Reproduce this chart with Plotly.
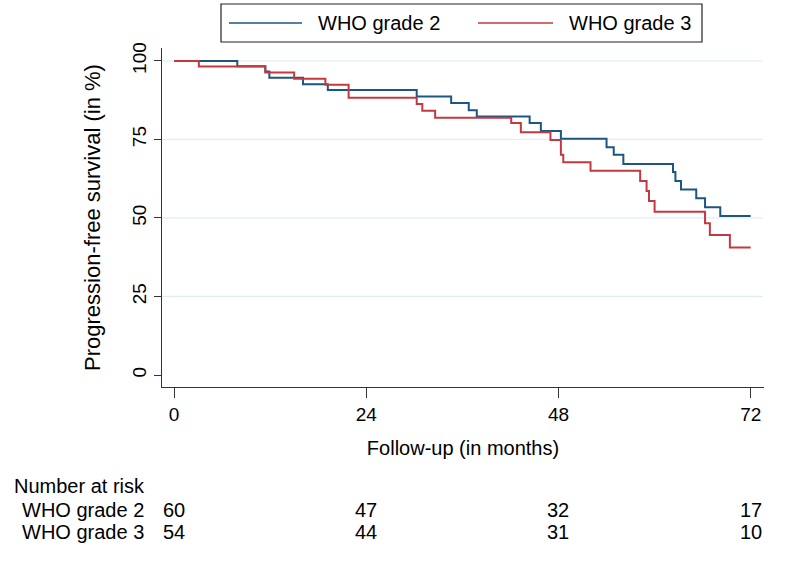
import plotly.graph_objects as go

# ---------------- data ----------------
g2_months = [0, 7.9, 11.4, 11.9, 16.1, 19.2, 30.3, 34.6, 36.8, 37.8, 44.4, 45.8, 48.3,
             54.0, 54.9, 56.1, 62.3, 62.6, 63.3, 65.2, 66.3, 68.2, 72.0]
g2_surv = [100, 98.3, 96.6, 94.6, 92.6, 90.7, 88.7, 86.6, 84.3, 82.3, 80.2, 77.7, 75.2,
           72.5, 70.1, 67.2, 64.6, 61.8, 59.1, 56.3, 53.4, 50.6, 50.6]

g3_months = [0, 3.1, 11.4, 15.0, 18.9, 21.8, 30.3, 31.0, 32.6, 42.1, 43.3, 47.0, 48.3,
             48.6, 52.0, 58.2, 59.0, 59.3, 60.0, 66.3, 66.9, 69.4, 72.0]
g3_surv = [100, 98.2, 96.3, 94.3, 92.4, 88.3, 86.3, 84.1, 81.9, 80.2, 77.3, 74.8, 70.1,
           67.7, 65.0, 61.8, 58.6, 55.4, 52.0, 48.3, 44.6, 40.6, 40.6]

series_names = ["WHO grade 2", "WHO grade 3"]
series_colors = ["#1c5683", "#c3393f"]

x_ticks = [0, 24, 48, 72]
y_ticks = [0, 25, 50, 75, 100]
y_grid = [25, 50, 75, 100]

risk_times = [0, 24, 48, 72]
risk_g2 = [60, 47, 32, 17]
risk_g3 = [54, 44, 31, 10]

# ---------------- layout geometry (pixels) ----------------
W, H = 787, 563
PL, PR, PT, PB = 162, 764, 48, 387  # plot area


def px_x(px):
    return (px - PL) / (PR - PL)


def px_y(py):
    return (PB - py) / (PB - PT)


FONT = "Liberation Sans, Arial, sans-serif"

fig = go.Figure()
for xs, ys, name, col in [(g2_months, g2_surv, series_names[0], series_colors[0]),
                          (g3_months, g3_surv, series_names[1], series_colors[1])]:
    fig.add_trace(go.Scatter(x=xs, y=ys, mode="lines", name=name,
                             line=dict(color=col, width=2, shape="hv"),
                             showlegend=False))

shapes = []
for g in y_grid:
    shapes.append(dict(type="line", xref="paper", yref="y", x0=0, x1=0.998, y0=g, y1=g,
                       line=dict(color="#e2eef0", width=1.3), layer="below"))

# manual legend box
shapes.append(dict(type="rect", xref="paper", yref="paper",
                   x0=px_x(221), x1=px_x(702), y0=px_y(42), y1=px_y(4),
                   line=dict(color="#222222", width=1.2), fillcolor="white"))
leg_items = [(229, 302, 316), (478, 553, 567)]
annotations = []
for (lx0, lx1, tx), name, col in zip(leg_items, series_names, series_colors):
    shapes.append(dict(type="line", xref="paper", yref="paper",
                       x0=px_x(lx0), x1=px_x(lx1), y0=px_y(23), y1=px_y(23),
                       line=dict(color=col, width=1.5)))
    annotations.append(dict(text=name, xref="paper", yref="paper", x=px_x(tx), y=px_y(23),
                            xanchor="left", yanchor="middle", showarrow=False,
                            font=dict(size=20, color="black", family=FONT)))

# number at risk table
annotations.append(dict(text="Number at risk", xref="paper", yref="paper",
                        x=px_x(12), y=px_y(486), xanchor="left", yanchor="middle",
                        showarrow=False, font=dict(size=20, color="black", family=FONT)))
for row_py, name, counts in [(510, series_names[0], risk_g2), (532, series_names[1], risk_g3)]:
    annotations.append(dict(text=name, xref="paper", yref="paper", x=px_x(146), y=px_y(row_py),
                            xanchor="right", yanchor="middle", showarrow=False,
                            font=dict(size=20, color="black", family=FONT)))
    for t, n in zip(risk_times, counts):
        annotations.append(dict(text=str(n), xref="x", yref="paper", x=t, y=px_y(row_py),
                                xanchor="center", yanchor="middle", showarrow=False,
                                font=dict(size=20, color="black", family=FONT)))

fig.update_layout(
    width=W, height=H,
    margin=dict(l=PL, r=W - PR, t=PT, b=H - PB),
    paper_bgcolor="white", plot_bgcolor="white",
    font=dict(family=FONT, size=20, color="black"),
    shapes=shapes, annotations=annotations,
    xaxis=dict(range=[-1.5, 73.66], tickvals=x_ticks, showgrid=False, zeroline=False,
               showline=True, linecolor="#333333", linewidth=1.3,
               ticks="outside", ticklen=10, tickwidth=1.3, tickcolor="#333333",
               tickfont=dict(size=19, family=FONT, color="black"),
               title=dict(text="Follow-up (in months)", standoff=17,
                          font=dict(size=20, family=FONT, color="black"))),
    yaxis=dict(range=[-3.8, 104.1], tickvals=y_ticks, showgrid=False, zeroline=False,
               showline=True, linecolor="#333333", linewidth=1.3,
               ticks="outside", ticklen=7, tickwidth=1.3, tickcolor="#333333",
               tickangle=-90,
               tickfont=dict(size=19, family=FONT, color="black"),
               title=dict(text="Progression-free survival (in %)", standoff=22,
                          font=dict(size=22, family=FONT, color="black"))),
)

fig.write_html("out.html", config={"displayModeBar": False},
               post_script="document.body.style.margin='0';document.body.style.padding='0';")
